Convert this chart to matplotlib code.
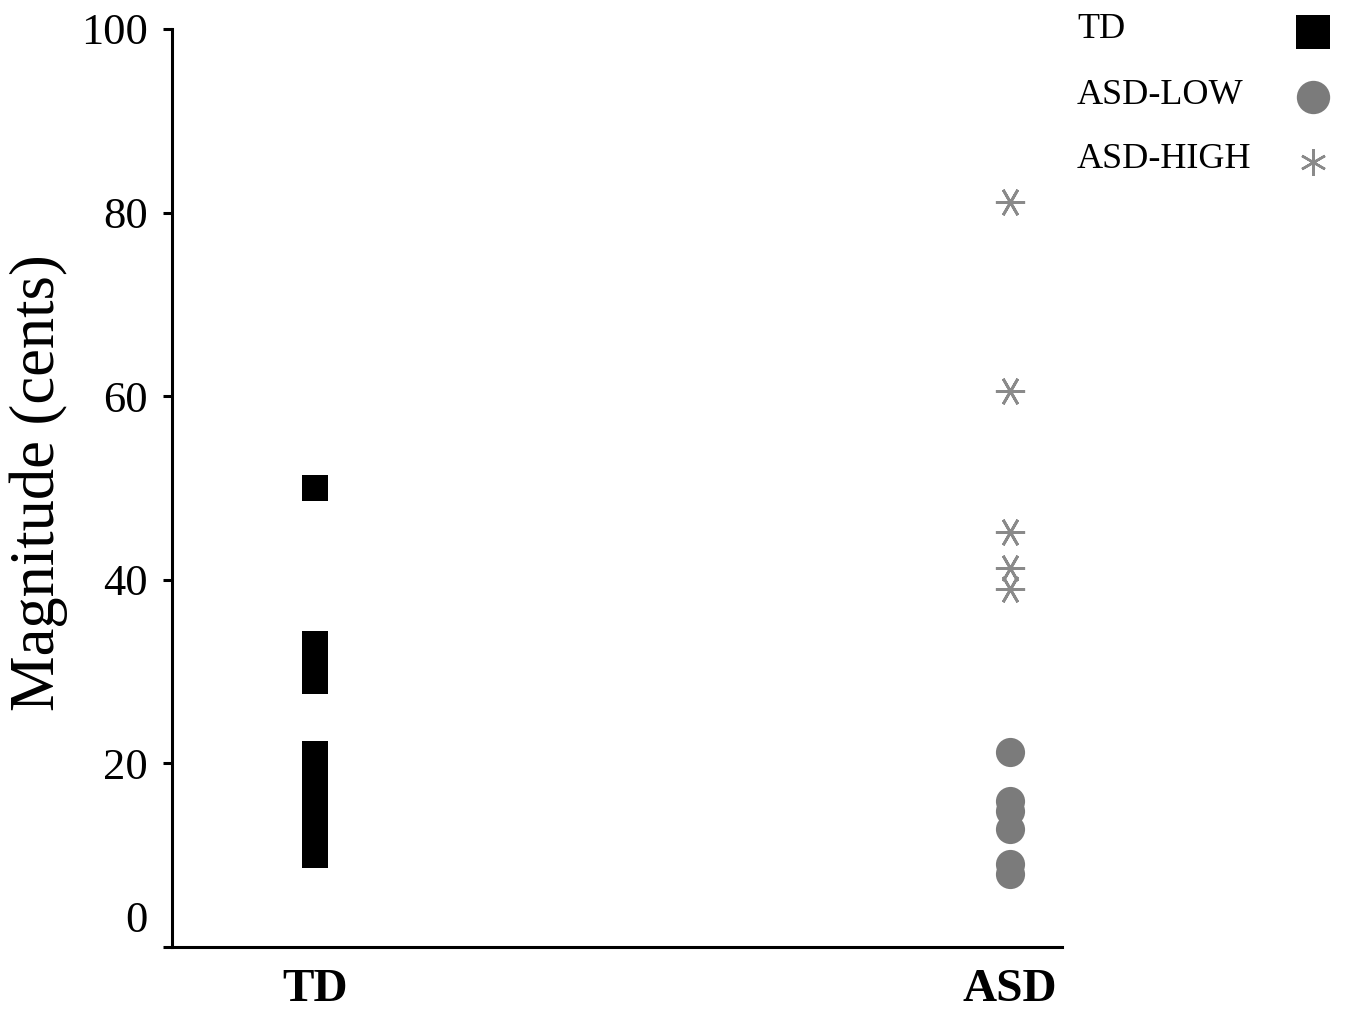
import matplotlib.pyplot as plt
from matplotlib.lines import Line2D

plt.rcParams['font.family'] = ['Liberation Serif', 'DejaVu Serif']

# Data (magnitude in cents)
groups = ['TD', 'ASD']
td_values = [50, 33, 32, 30.5, 29, 21, 19.5, 18, 17, 15.5, 14, 13, 11.5, 10]
asd_low_values = [21.2, 15.9, 14.8, 12.9, 9.0, 8.0]
asd_high_values = [81.2, 60.6, 45.2, 41.3, 39.0]
y_ticks = [0, 20, 40, 60, 80, 100]
legend_labels = ['TD', 'ASD-LOW', 'ASD-HIGH']

W, H = 1345, 1013
fig = plt.figure(figsize=(W / 100, H / 100), dpi=100)
ax = fig.add_axes([172 / W, 1 - 947 / H, 890 / W, 918 / H])

# TD squares
ax.plot([0] * len(td_values), td_values, linestyle='none', marker='s',
        markersize=18.5, color='black', markeredgewidth=0)

# ASD-LOW circles
ax.plot([1] * len(asd_low_values), asd_low_values, linestyle='none', marker='o',
        markersize=21, color='#7b7b7b', markeredgewidth=0)

# ASD-HIGH asterisks
ax.plot([1] * len(asd_high_values), asd_high_values, linestyle='none',
        marker=(6, 2, 90), markersize=21, color='#8a8a8a', markeredgewidth=2)

ax.set_xlim(-0.206, 1.075)
ax.set_ylim(0, 100)

ax.spines['top'].set_visible(False)
ax.spines['right'].set_visible(False)
ax.spines['left'].set_linewidth(2.2)
ax.spines['bottom'].set_linewidth(2.2)

ax.set_xticks([0, 1])
ax.set_xticklabels(groups, fontsize=34, fontweight='bold')
ax.tick_params(axis='x', length=0, pad=16)

ax.set_yticks(y_ticks)
ax.set_yticklabels(['' if v == 0 else str(v) for v in y_ticks], fontsize=32)
ax.tick_params(axis='y', direction='out', length=6.5, width=2.2, pad=11)
# the zero label sits above its tick in the original
ax.annotate('0', xy=(0, 0), xycoords=('axes fraction', 'data'),
            xytext=(-17.5, 19), textcoords='offset points',
            ha='right', va='center', fontsize=32)

ax.set_ylabel('Magnitude (cents)', fontsize=45)
ax.yaxis.set_label_coords(-0.117, 0.506)

# legend: labels left-aligned, keys in a column on the right
key_styles = [
    dict(marker='s', markersize=25, color='black', markeredgewidth=0),
    dict(marker='o', markersize=24, color='#7b7b7b', markeredgewidth=0),
    dict(marker=(6, 2, 0), markersize=19, color='#8a8a8a', markeredgewidth=1.8),
]
for i, (label, style) in enumerate(zip(legend_labels, key_styles)):
    y = 1 - (30 + 65 * i) / H
    fig.text(1077 / W, y, label, fontsize=26, ha='left', va='center')
    fig.add_artist(Line2D([1313 / W], [y - 2 / H], transform=fig.transFigure,
                          linestyle='none', **style))

fig.savefig('out.png', dpi=100)
